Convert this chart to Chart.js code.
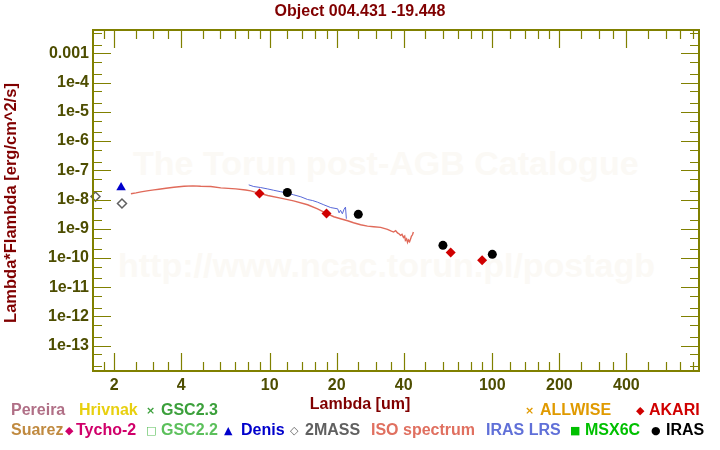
<!DOCTYPE html>
<html lang="en">
<head>
  <meta charset="UTF-8" />
  <title>Object 004.431 -19.448</title>
  <script src="https://cdn.jsdelivr.net/npm/chart.js"></script>
  <style>
    body { margin: 0; background: #fff; }
    #wrap { position: relative; width: 720px; height: 450px; overflow: hidden;
            font-family: 'Liberation Sans', Arial, sans-serif; font-weight: bold; }
    #wrap canvas { position: absolute; left: 0; top: 0; z-index: 1; }
    .t { position: absolute; white-space: nowrap; font-size: 16px; line-height: 16px; z-index: 2; }
    .wm { position: absolute; white-space: nowrap; font-size: 34px; line-height: 34px;
          color: rgb(251, 249, 245); z-index: 0; }
    .sym { position: absolute; font-family: 'DejaVu Sans', sans-serif; font-weight: bold;
           font-size: 11px; line-height: 11px; z-index: 2; }
  </style>
</head>
<body>
  <div id="wrap">
    <!-- watermark -->
    <div class="wm" style="left:133px; top:146px;">The Torun post-AGB Catalogue</div>
    <div class="wm" style="left:118px; top:248px;">http://www.ncac.torun.pl/postagb</div>

    <canvas id="sed" width="720" height="450"></canvas>

    <!-- titles -->
    <div class="t" style="left:0; width:720px; text-align:center; top:3px; color:#800000;">Object 004.431 -19.448</div>
    <div class="t" style="left:0; width:720px; text-align:center; top:396px; color:#800000;">Lambda [um]</div>
    <div class="t" style="left:-140px; width:300px; text-align:center; top:195px; color:#800000; transform:rotate(-90deg); font-size:16.5px;">Lambda*Flambda [erg/cm^2/s]</div>

    <!-- legend, row 1 -->
    <div class="t" style="left:11px; top:402px; color:#b06f86;">Pereira</div>
    <div class="t" style="left:79px; top:402px; color:#e8d010;">Hrivnak</div>
    <div class="sym" style="left:146px; top:405px; color:#3ca03c;">×</div>
    <div class="t" style="left:161px; top:402px; color:#3ca03c;">GSC2.3</div>
    <div class="sym" style="left:525px; top:405px; color:#e09a00;">×</div>
    <div class="t" style="left:540px; top:402px; color:#e09a00;">ALLWISE</div>
    <div class="sym" style="left:636px; top:405px; color:#d00000;">◆</div>
    <div class="t" style="left:649px; top:402px; color:#d00000;">AKARI</div>

    <!-- legend, row 2 -->
    <div class="t" style="left:11px; top:422px; color:#c08a40;">Suarez</div>
    <div class="sym" style="left:65px; top:425px; color:#d0006a;">◆</div>
    <div class="t" style="left:76px; top:422px; color:#d0006a;">Tycho-2</div>
    <div class="sym" style="left:146px; top:425px; color:#5cc05c;">□</div>
    <div class="t" style="left:161px; top:422px; color:#5cc05c;">GSC2.2</div>
    <div class="sym" style="left:224px; top:425px; color:#0000cc;">▲</div>
    <div class="t" style="left:241px; top:422px; color:#0000cc;">Denis</div>
    <div class="sym" style="left:290px; top:425px; color:#606060;">◇</div>
    <div class="t" style="left:305px; top:422px; color:#606060;">2MASS</div>
    <div class="t" style="left:371px; top:422px; color:#e07060;">ISO spectrum</div>
    <div class="t" style="left:486px; top:422px; color:#6070d8;">IRAS LRS</div>
    <div class="sym" style="left:570px; top:425px; color:#00c000;">■</div>
    <div class="t" style="left:585px; top:422px; color:#00c000;">MSX6C</div>
    <div class="sym" style="left:651px; top:425px; color:#000;">●</div>
    <div class="t" style="left:666px; top:422px; color:#000;">IRAS</div>
  </div>

  <script>
    // axis ticks
    const xMajor = [2, 4, 10, 20, 40, 100, 200, 400];
    const xLabels = ['2', '4', '10', '20', '40', '100', '200', '400'];
    const xMinor = [1.8, 2.5, 3, 3.5, 5, 6, 7, 8, 9, 12, 14, 16, 18, 25, 30, 35,
                    50, 60, 70, 80, 90, 120, 140, 160, 180, 250, 300, 350, 500, 600, 700, 800];
    const yMajor = [1e-13, 1e-12, 1e-11, 1e-10, 1e-9, 1e-8, 1e-7, 1e-6, 1e-5, 1e-4, 1e-3];
    const yLabels = ['1e-13', '1e-12', '1e-11', '1e-10', '1e-9', '1e-8', '1e-7', '1e-6', '1e-5', '1e-4', '0.001'];
    const yMinor = [2e-14, 5e-14, 2e-13, 5e-13, 2e-12, 5e-12, 2e-11, 5e-11, 2e-10, 5e-10,
                    2e-9, 5e-9, 2e-8, 5e-8, 2e-7, 5e-7, 2e-6, 5e-6, 2e-5, 5e-5, 2e-4, 5e-4, 2e-3, 5e-3];

    // ISO spectrum
    const isoLambda = [2.38, 2.51, 2.64, 2.81, 3.02, 3.18, 3.42, 3.71, 4.12, 4.52, 4.90, 5.44, 6.03,
                       7.04, 7.80, 8.22, 8.84, 9.80, 11.2, 12.8, 14.8, 16.4, 17.8, 19.4, 20.8, 22.4,
                       23.8, 25.6, 27.5, 29.3, 31.5, 33.8, 35.0, 36.0, 36.8, 37.5, 38.2, 38.7, 39.3,
                       39.9, 40.4, 40.7, 41.2, 41.6, 42.0, 42.5, 43.0, 43.3, 43.8, 44.2];
    const isoFlux = [1.57e-8, 1.69e-8, 1.83e-8, 1.98e-8, 2.14e-8, 2.25e-8, 2.43e-8, 2.63e-8, 2.84e-8,
                     2.93e-8, 2.84e-8, 2.78e-8, 2.51e-8, 2.32e-8, 2.11e-8, 1.98e-8, 1.69e-8, 1.37e-8,
                     1.11e-8, 9.0e-9, 6.6e-9, 4.8e-9, 3.5e-9, 2.57e-9, 2.19e-9, 1.87e-9, 1.60e-9,
                     1.37e-9, 1.23e-9, 1.17e-9, 1.11e-9, 9.5e-10, 8.4e-10, 7.7e-10, 8.6e-10, 7.2e-10,
                     6.6e-10, 5.9e-10, 6.4e-10, 5.0e-10, 5.6e-10, 4.0e-10, 4.5e-10, 3.4e-10, 4.1e-10,
                     3.6e-10, 4.6e-10, 5.5e-10, 6.2e-10, 7.7e-10];

    // IRAS LRS
    const lrsLambda = [8.05, 8.48, 9.11, 9.8, 10.4, 11.2, 12.0, 12.8, 13.8, 14.8, 15.6, 16.4, 17.5,
                       18.8, 20.2, 20.5, 20.8, 21.2, 21.6, 21.9, 22.1];
    const lrsFlux = [3.17e-8, 2.78e-8, 2.57e-8, 2.3e-8, 2.08e-8, 1.85e-8, 1.69e-8, 1.45e-8, 1.24e-8,
                     1.0e-8, 9.2e-9, 8.1e-9, 6.6e-9, 5.3e-9, 4.8e-9, 3.5e-9, 4.3e-9, 3.25e-9,
                     4.7e-9, 5.5e-9, 2.2e-9];

    // photometry
    const irasLambda = [12, 25, 60, 100];
    const irasFlux = [1.74e-8, 3.1e-9, 2.7e-10, 1.33e-10];
    const akariLambda = [9, 18, 65, 90];
    const akariFlux = [1.6e-8, 3.3e-9, 1.55e-10, 8.3e-11];
    const denisLambda = [2.15];
    const denisFlux = [2.6e-8];
    const massLambda = [1.65, 2.17];
    const massFlux = [1.26e-8, 7.3e-9];

    const pts = (xs, ys) => xs.map((x, i) => ({ x: x, y: ys[i] }));
    const near = (v, list) => list.findIndex(m => Math.abs(v / m - 1) < 1e-6);

    const axisColor = '#808000';
    const labelFont = { family: 'Liberation Sans', size: 16, weight: 'bold' };

    // frame and inward ticks on all four sides
    const framePlugin = {
      id: 'frame',
      afterDraw(chart) {
        const { ctx, chartArea: a, scales } = chart;
        ctx.save();
        ctx.strokeStyle = axisColor;
        ctx.lineWidth = 1.2;
        ctx.beginPath();
        const tx = (v, len) => {
          const p = Math.round(scales.x.getPixelForValue(v)) + 0.5;
          ctx.moveTo(p, a.bottom); ctx.lineTo(p, a.bottom - len);
          ctx.moveTo(p, a.top); ctx.lineTo(p, a.top + len);
        };
        const ty = (v, len) => {
          const p = Math.round(scales.y.getPixelForValue(v)) + 0.5;
          ctx.moveTo(a.left, p); ctx.lineTo(a.left + len, p);
          ctx.moveTo(a.right, p); ctx.lineTo(a.right - len, p);
        };
        xMajor.forEach(v => tx(v, 18));
        xMinor.forEach(v => tx(v, 9));
        yMajor.forEach(v => ty(v, 18));
        yMinor.forEach(v => ty(v, 9));
        ctx.stroke();
        ctx.lineWidth = 2;
        ctx.strokeRect(a.left, a.top, a.right - a.left, a.bottom - a.top);
        ctx.restore();
      }
    };

    new Chart(document.getElementById('sed'), {
      type: 'scatter',
      data: {
        datasets: [
          { label: 'IRAS', data: pts(irasLambda, irasFlux), order: 1, clip: false,
            pointStyle: 'circle', pointRadius: 4.5, backgroundColor: '#000', borderColor: '#000', borderWidth: 0 },
          { label: 'AKARI', data: pts(akariLambda, akariFlux), order: 2, clip: false,
            pointStyle: 'rectRot', pointRadius: 5, backgroundColor: '#d00000', borderColor: '#d00000', borderWidth: 0 },
          { label: 'Denis', data: pts(denisLambda, denisFlux), order: 3, clip: false,
            pointStyle: 'triangle', pointRadius: 5.5, backgroundColor: '#0000cc', borderColor: '#0000cc', borderWidth: 0 },
          { label: '2MASS', data: pts(massLambda, massFlux), order: 4, clip: false,
            pointStyle: 'rectRot', pointRadius: 4.5, backgroundColor: '#fff', borderColor: '#606060', borderWidth: 1.5 },
          { label: 'IRAS LRS', data: pts(lrsLambda, lrsFlux), order: 5, showLine: true,
            pointRadius: 0, borderColor: '#5868d8', borderWidth: 1 },
          { label: 'ISO spectrum', data: pts(isoLambda, isoFlux), order: 6, showLine: true,
            pointRadius: 0, borderColor: '#e06a5a', borderWidth: 1.4 }
        ]
      },
      options: {
        responsive: false,
        animation: false,
        layout: { padding: { left: 0, top: 30, right: 21, bottom: 0 } },
        plugins: { legend: { display: false }, tooltip: { enabled: false } },
        scales: {
          x: {
            type: 'logarithmic', position: 'bottom', min: 1.608, max: 848,
            afterFit: s => { s.height = 79; },
            afterBuildTicks: s => {
              s.ticks = xMajor.concat(xMinor).sort((p, q) => p - q).map(v => ({ value: v }));
            },
            grid: { display: false, drawTicks: false },
            border: { display: false },
            ticks: {
              autoSkip: false, maxRotation: 0, padding: 5, color: '#4d4d00', font: labelFont,
              callback: v => { const i = near(v, xMajor); return i < 0 ? '' : xLabels[i]; }
            }
          },
          y: {
            type: 'logarithmic', position: 'left', min: 1.35e-14, max: 6.34e-3,
            afterFit: s => { s.width = 93; },
            afterBuildTicks: s => {
              s.ticks = yMajor.concat(yMinor).sort((p, q) => p - q).map(v => ({ value: v }));
            },
            grid: { display: false, drawTicks: false },
            border: { display: false },
            ticks: {
              autoSkip: false, padding: 4, color: '#4d4d00', font: labelFont,
              callback: v => { const i = near(v, yMajor); return i < 0 ? '' : yLabels[i]; }
            }
          }
        }
      },
      plugins: [framePlugin]
    });
  </script>
</body>
</html>
